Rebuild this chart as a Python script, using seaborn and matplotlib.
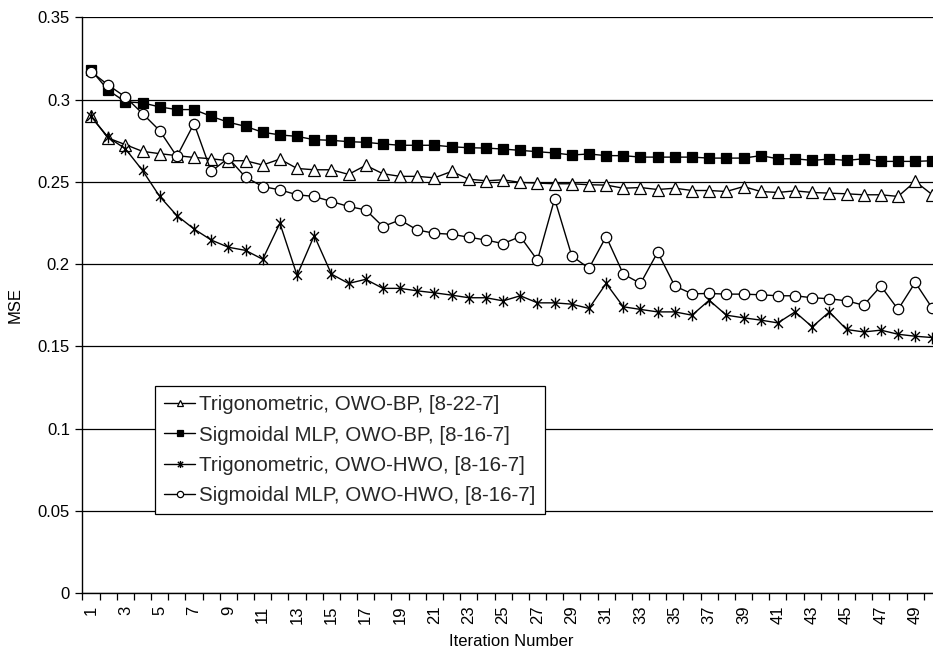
import numpy as np
import pandas as pd
import matplotlib
matplotlib.use("Agg")
import matplotlib.pyplot as plt
from matplotlib.path import Path
import seaborn as sns

iterations = list(range(1, 51))

trig_owo_bp = [0.2898, 0.2766, 0.2726, 0.2685, 0.2671, 0.2659, 0.2648, 0.2640, 0.2628, 0.2628,
               0.2602, 0.2638, 0.2581, 0.2573, 0.2573, 0.2545, 0.2600, 0.2549, 0.2533, 0.2533,
               0.2524, 0.2563, 0.2516, 0.2506, 0.2512, 0.2496, 0.2492, 0.2488, 0.2488, 0.2482,
               0.2480, 0.2461, 0.2465, 0.2453, 0.2461, 0.2447, 0.2447, 0.2441, 0.2471, 0.2441,
               0.2435, 0.2445, 0.2435, 0.2431, 0.2427, 0.2421, 0.2421, 0.2411, 0.2502, 0.2421]

sig_owo_bp = [0.3180, 0.3057, 0.2986, 0.2980, 0.2955, 0.2939, 0.2939, 0.2898, 0.2862, 0.2837,
              0.2801, 0.2785, 0.2776, 0.2756, 0.2752, 0.2744, 0.2740, 0.2730, 0.2722, 0.2722,
              0.2722, 0.2713, 0.2707, 0.2705, 0.2699, 0.2691, 0.2683, 0.2675, 0.2663, 0.2669,
              0.2659, 0.2659, 0.2650, 0.2650, 0.2650, 0.2650, 0.2644, 0.2644, 0.2644, 0.2659,
              0.2640, 0.2640, 0.2630, 0.2638, 0.2630, 0.2640, 0.2624, 0.2624, 0.2624, 0.2628]

trig_owo_hwo = [0.2898, 0.2770, 0.2701, 0.2569, 0.2411, 0.2295, 0.2213, 0.2146, 0.2102, 0.2083,
                0.2029, 0.2248, 0.1931, 0.2173, 0.1939, 0.1882, 0.1907, 0.1852, 0.1852, 0.1837,
                0.1825, 0.1811, 0.1795, 0.1795, 0.1776, 0.1807, 0.1764, 0.1764, 0.1756, 0.1730,
                0.1882, 0.1740, 0.1724, 0.1709, 0.1709, 0.1689, 0.1780, 0.1689, 0.1673, 0.1659,
                0.1642, 0.1709, 0.1618, 0.1709, 0.1602, 0.1587, 0.1598, 0.1573, 0.1561, 0.1553]

sig_owo_hwo = [0.3170, 0.3088, 0.3016, 0.2915, 0.2811, 0.2654, 0.2854, 0.2563, 0.2644, 0.2528,
               0.2471, 0.2451, 0.2421, 0.2411, 0.2380, 0.2350, 0.2329, 0.2228, 0.2268, 0.2207,
               0.2187, 0.2181, 0.2163, 0.2146, 0.2124, 0.2167, 0.2023, 0.2396, 0.2049, 0.1974,
               0.2167, 0.1939, 0.1882, 0.2072, 0.1866, 0.1819, 0.1821, 0.1817, 0.1817, 0.1813,
               0.1807, 0.1807, 0.1795, 0.1789, 0.1776, 0.1750, 0.1866, 0.1724, 0.1888, 0.1730]

series_names = ["Trigonometric, OWO-BP, [8-22-7]",
                "Sigmoidal MLP, OWO-BP, [8-16-7]",
                "Trigonometric, OWO-HWO, [8-16-7]",
                "Sigmoidal MLP, OWO-HWO, [8-16-7]"]
series_values = [trig_owo_bp, sig_owo_bp, trig_owo_hwo, sig_owo_hwo]

x_tick_labels = [str(i) for i in range(1, 51, 2)]
y_ticks = [0, 0.05, 0.1, 0.15, 0.2, 0.25, 0.3, 0.35]
y_tick_labels = ["0", "0.05", "0.1", "0.15", "0.2", "0.25", "0.3", "0.35"]

sns.set_theme(style="white")
plt.rcParams["font.family"] = ["Liberation Sans", "DejaVu Sans"]

# Excel-style star marker: vertical line plus an X
star = Path([(0, -1), (0, 1), (-0.75, -0.75), (0.75, 0.75), (-0.75, 0.75), (0.75, -0.75)],
            [Path.MOVETO, Path.LINETO, Path.MOVETO, Path.LINETO, Path.MOVETO, Path.LINETO])

styles = [
    dict(marker="^", ms=8, mfc="white", mec="black", mew=0.9),
    dict(marker="s", ms=6.5, mfc="black", mec="black", mew=0.9),
    dict(marker=star, ms=8.5, mfc="none", mec="black", mew=1.0),
    dict(marker="o", ms=7.5, mfc="white", mec="black", mew=0.9),
]

fig = plt.figure(figsize=(9.33, 6.49), dpi=100)
ax = fig.add_axes([82.4 / 933, 1 - 593 / 649, (941 - 82.4) / 933, (593 - 17.3) / 649])

for name, vals, st in zip(series_names, series_values, styles):
    df = pd.DataFrame({"Iteration": iterations, "MSE": vals})
    sns.lineplot(data=df, x="Iteration", y="MSE", ax=ax, color="black", lw=1.0,
                 label=name, **st)

ax.set_xlim(0.5, 50.5)
ax.set_ylim(0, 0.35)
ax.set_yticks(y_ticks)
ax.set_yticklabels(y_tick_labels)
ax.yaxis.grid(True, color="black", lw=0.9)
ax.xaxis.grid(False)
ax.set_axisbelow(True)

ax.set_xticks(list(range(1, 51, 2)))
ax.set_xticklabels(x_tick_labels, rotation=90)
ax.set_xticks(np.arange(0.5, 51, 1.0), minor=True)
ax.tick_params(axis="x", which="major", length=0, pad=9, labelsize=12, colors="black")
ax.tick_params(axis="x", which="minor", length=5, width=0.9, direction="out", bottom=True, color="black")
ax.tick_params(axis="y", which="major", length=5, width=0.9, direction="out", left=True,
               pad=4, labelsize=12, colors="black")

for side in ["top", "right"]:
    ax.spines[side].set_visible(False)
for side in ["left", "bottom"]:
    ax.spines[side].set_color("black")
    ax.spines[side].set_linewidth(1.0)

ax.set_xlabel("Iteration Number", fontsize=12, color="black", labelpad=7)
ax.set_ylabel("MSE", fontsize=12, color="black", labelpad=11)

leg = ax.legend(loc="upper left", bbox_to_anchor=(0.0846, 0.3596), borderaxespad=0,
                fontsize=14.8, frameon=True, fancybox=False, edgecolor="black",
                framealpha=1, markerscale=0.6, handlelength=1.5, handletextpad=0.2,
                labelspacing=0.55, borderpad=0.45)
leg.get_frame().set_linewidth(0.9)

fig.savefig("out.png", dpi=100)
